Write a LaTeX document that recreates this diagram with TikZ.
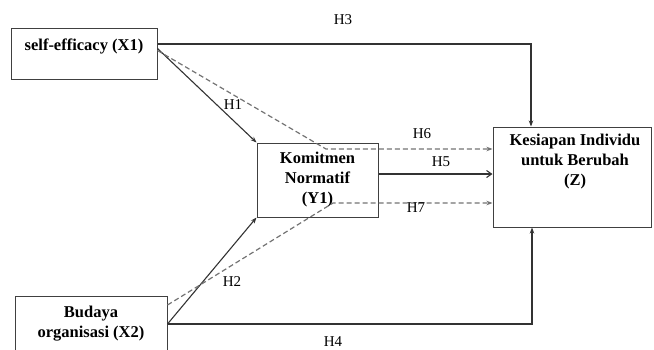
\documentclass[tikz,border=0pt]{standalone}
\usepackage{fontspec}
\setmainfont{Liberation Serif}
\usetikzlibrary{arrows.meta,positioning}

\begin{document}
\begin{tikzpicture}[x=1pt,y=-1pt,>={Stealth[length=6pt,width=4.5pt]},
  box/.style={draw=black!75,line width=1pt,inner sep=0pt},
  btxt/.style={align=center,font=\fontsize{16.5}{20}\selectfont\bfseries,inner sep=0pt},
  hlbl/.style={font=\fontsize{15}{18}\selectfont,inner sep=0pt},
  path/.style={draw=black!80,line width=1.1pt},
  ind/.style={draw=black!55,line width=1.2pt,dash pattern=on 5pt off 3pt}]
\useasboundingbox (0,0) rectangle (654,349);
% variables
\node[box,minimum width=146pt,minimum height=51pt] (x1) at (84,53.5) {};
\node[btxt] (x1txt) at (84,46) {self-efficacy (X1)};
\node[box,btxt,minimum width=121pt,minimum height=74pt] (y1) at (317.5,180) {Komitmen\\Normatif\\(Y1)};
\node[box,minimum width=158pt,minimum height=100pt] (z) at (572,177) {};
\node[btxt] (ztxt) at (575,162) {Kesiapan Individu\\untuk Berubah\\(Z)};
\node[box,btxt,minimum width=152pt,minimum height=56pt] (x2) at (91,324) {Budaya\\organisasi (X2)};
% bends of the indirect paths
\coordinate (m6) at (326,149);
\coordinate (m7) at (333,203);
% direct paths
\draw[path,->] ([yshift=9.5pt]x1.east) -| ([xshift=-41pt]z.north);
\draw[path,->] (x2.east) -| ([xshift=-40pt]z.south);
\draw[path,->] ([yshift=5pt]x1.east) -- (y1.north west);
\draw[path,->] (x2.east) -- (y1.south west);
\draw[path,-{Straight Barb[length=5pt,width=7pt]}] ([yshift=6pt]y1.east) -- ([yshift=6pt]y1.east -| z.west);
% indirect paths
\draw[ind,->] ([yshift=3pt]x1.east) -- (m6) -- (m6 -| z.west);
\draw[ind,->] ([yshift=19pt]x2.east) -- (m7) -- (m7 -| z.west);
% labels
\node[hlbl] (h1) at (233,105) {H1};
\node[hlbl] (h2) at (232,282) {H2};
\node[hlbl] (h3) at (343,20) {H3};
\node[hlbl] (h4) at (333,342) {H4};
\node[hlbl] (h5) at (441,162) {H5};
\node[hlbl] (h6) at (422,134) {H6};
\node[hlbl] (h7) at (416,208) {H7};
\end{tikzpicture}
\end{document}
